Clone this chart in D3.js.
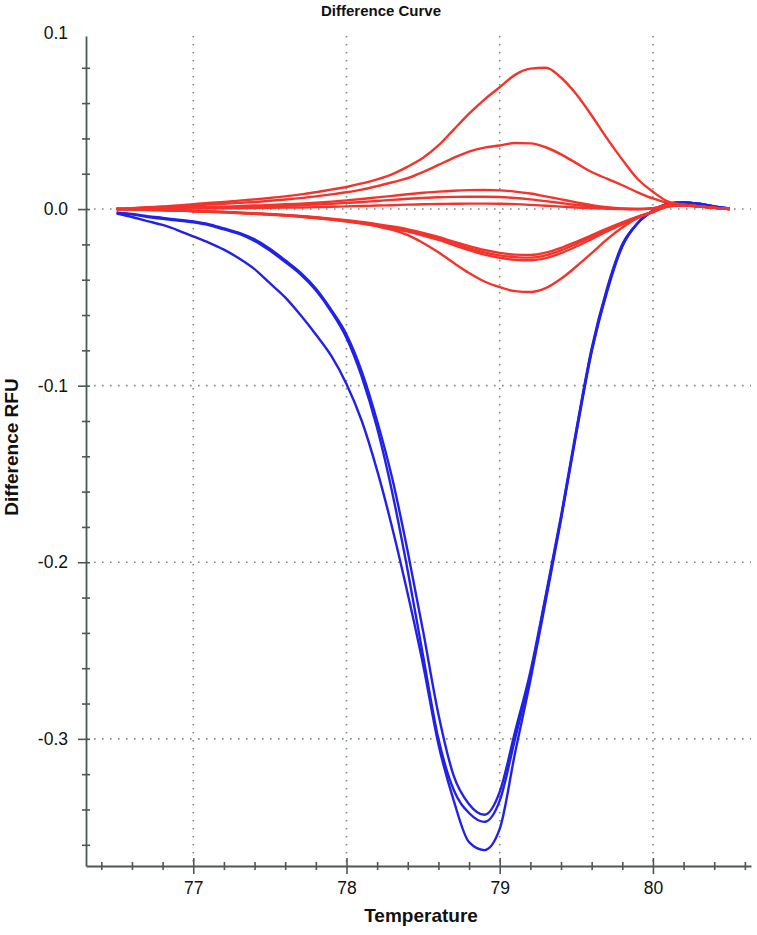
<!DOCTYPE html>
<html><head><meta charset="utf-8">
<script src="https://cdn.jsdelivr.net/npm/d3@7"></script>
<style>body{margin:0;background:#fff}svg{display:block}</style>
</head><body><svg id="c" width="757" height="935"></svg>
<script>
const temperature = [76.5,76.6,76.7,76.8,76.9,77.0,77.1,77.2,77.3,77.4,77.5,77.6,77.7,77.8,77.9,78.0,78.1,78.2,78.3,78.4,78.5,78.6,78.7,78.8,78.9,79.0,79.1,79.2,79.3,79.4,79.5,79.6,79.7,79.8,79.9,80.0,80.1,80.2,80.3,80.4,80.5];

const blue1 = [-0.0025,-0.0045,-0.0068,-0.009,-0.012,-0.0155,-0.019,-0.023,-0.028,-0.034,-0.042,-0.05,-0.06,-0.071,-0.083,-0.099,-0.12,-0.148,-0.181,-0.218,-0.258,-0.303,-0.335,-0.3585,-0.363,-0.351,-0.308,-0.267,-0.222,-0.176,-0.127,-0.081,-0.047,-0.021,-0.008,-0.001,0.003,0.0038,0.003,0.0015,0.0003];
const blue2 = [-0.002,-0.003,-0.0045,-0.0055,-0.0065,-0.0075,-0.009,-0.0115,-0.014,-0.018,-0.0235,-0.03,-0.037,-0.046,-0.058,-0.073,-0.095,-0.124,-0.161,-0.205,-0.253,-0.3,-0.329,-0.342,-0.347,-0.335,-0.3,-0.264,-0.22,-0.175,-0.126,-0.08,-0.046,-0.021,-0.008,-0.001,0.003,0.0038,0.003,0.0015,0.0003];
const blue3 = [-0.002,-0.0028,-0.004,-0.005,-0.006,-0.007,-0.0085,-0.011,-0.0135,-0.0172,-0.0225,-0.029,-0.036,-0.045,-0.057,-0.071,-0.092,-0.12,-0.153,-0.194,-0.239,-0.286,-0.321,-0.337,-0.343,-0.33,-0.296,-0.262,-0.219,-0.174,-0.125,-0.079,-0.045,-0.02,-0.008,-0.001,0.003,0.0038,0.003,0.0015,0.0003];

const red1 = [0,0.0005,0.001,0.0015,0.002,0.0028,0.0035,0.004,0.0048,0.0055,0.0063,0.0072,0.0083,0.0095,0.011,0.0125,0.0145,0.0168,0.0198,0.024,0.029,0.036,0.045,0.054,0.062,0.069,0.076,0.0795,0.08,0.0745,0.065,0.053,0.04,0.028,0.017,0.0098,0.0042,0.0025,0.0015,0.0007,0];
const red2 = [0,0.0004,0.0008,0.0012,0.0016,0.002,0.0025,0.003,0.0035,0.004,0.0047,0.0054,0.0062,0.0072,0.0083,0.0095,0.011,0.013,0.0152,0.0175,0.021,0.025,0.029,0.0325,0.0348,0.036,0.0374,0.0372,0.035,0.031,0.026,0.021,0.0172,0.0135,0.0095,0.006,0.0035,0.0025,0.0015,0.0007,0];
const red3 = [0,0.0002,0.0004,0.0006,0.0008,0.001,0.0012,0.0014,0.0017,0.002,0.0023,0.0027,0.0031,0.0036,0.0042,0.0049,0.0057,0.0066,0.0075,0.0084,0.0092,0.0099,0.0104,0.0107,0.0108,0.0106,0.0099,0.0088,0.0072,0.0055,0.0038,0.0022,0.001,0.0003,0.0001,0.0005,0.0024,0.0024,0.0015,0.0007,0];
const red4 = [0,0.0001,0.0003,0.0004,0.0005,0.0007,0.0008,0.001,0.0012,0.0014,0.0016,0.0019,0.0022,0.0026,0.003,0.0035,0.004,0.0046,0.0052,0.0058,0.0063,0.0067,0.0069,0.007,0.007,0.0068,0.0063,0.0055,0.0045,0.0034,0.0023,0.0013,0.0005,0.0001,0,0.0004,0.0024,0.0024,0.0015,0.0007,0];
const red5 = [0,0.0001,0.0001,0.0002,0.0002,0.0003,0.0004,0.0004,0.0005,0.0006,0.0007,0.0008,0.0009,0.0011,0.0013,0.0015,0.0017,0.002,0.0022,0.0025,0.0027,0.0029,0.003,0.0031,0.0031,0.003,0.0028,0.0024,0.0019,0.0014,0.0009,0.0005,0.0002,0,-0.0001,0.0004,0.0024,0.0024,0.0015,0.0007,0];
const red6 = [0,-0.0002,-0.0004,-0.0006,-0.0008,-0.001,-0.0013,-0.0016,-0.002,-0.0024,-0.0028,-0.0033,-0.0039,-0.0046,-0.0054,-0.0063,-0.0073,-0.0085,-0.0099,-0.0115,-0.0135,-0.0158,-0.0185,-0.021,-0.0232,-0.0248,-0.0258,-0.026,-0.0247,-0.022,-0.0185,-0.0148,-0.011,-0.0075,-0.0043,-0.0015,0.0015,0.0022,0.0015,0.0007,0];
const red7 = [0,-0.0002,-0.0004,-0.0006,-0.0009,-0.0011,-0.0014,-0.0017,-0.0021,-0.0025,-0.003,-0.0035,-0.0041,-0.0048,-0.0057,-0.0066,-0.0077,-0.009,-0.0105,-0.0122,-0.0143,-0.0167,-0.0195,-0.0222,-0.0245,-0.0262,-0.0272,-0.0275,-0.0262,-0.0234,-0.0197,-0.0157,-0.0117,-0.008,-0.0046,-0.0016,0.0015,0.0022,0.0015,0.0007,0];
const red8 = [0,-0.0002,-0.0005,-0.0007,-0.0009,-0.0012,-0.0015,-0.0018,-0.0022,-0.0027,-0.0032,-0.0037,-0.0044,-0.0051,-0.006,-0.007,-0.0081,-0.0095,-0.011,-0.0128,-0.015,-0.0175,-0.0204,-0.0233,-0.0258,-0.0276,-0.0287,-0.029,-0.0278,-0.025,-0.0212,-0.017,-0.0127,-0.0087,-0.005,-0.0018,0.0015,0.0022,0.0015,0.0007,0];
const red9 = [0,-0.0002,-0.0004,-0.0006,-0.0008,-0.0012,-0.0015,-0.0019,-0.0023,-0.0027,-0.003,-0.0036,-0.0043,-0.0051,-0.006,-0.007,-0.0082,-0.0098,-0.0118,-0.0148,-0.0192,-0.0245,-0.0305,-0.0362,-0.041,-0.0442,-0.0465,-0.047,-0.0448,-0.0395,-0.0325,-0.025,-0.0172,-0.0105,-0.005,-0.0015,0.0015,0.0022,0.0015,0.0007,0];

const xMajorTicks = [77, 78, 79, 80];
const xTickLabels = ["77", "78", "79", "80"];
const xMinorTicks = [76.4,76.6,76.8,77.2,77.4,77.6,77.8,78.2,78.4,78.6,78.8,79.2,79.4,79.6,79.8,80.2,80.4,80.6];
const yMajorTicks = [0.1, 0, -0.1, -0.2, -0.3];
const yTickLabels = ["0.1", "0.0", "-0.1", "-0.2", "-0.3"];
const yMinorTicks = [0.08,0.06,0.04,0.02,-0.02,-0.04,-0.06,-0.08,-0.12,-0.14,-0.16,-0.18,-0.22,-0.24,-0.26,-0.28,-0.32,-0.34,-0.36];
const yGrid = [0, -0.1, -0.2, -0.3];

const blueSeries = [blue1, blue2, blue3];
const redSeries = [red1, red2, red3, red4, red5, red6, red7, red8, red9];

const svg = d3.select("#c");
const x = d3.scaleLinear().domain([76.3, 80.64]).range([86, 751]);
const y = d3.scaleLinear().domain([-0.372, 0.098]).range([866, 36]);
const axisColor = "#4b5858";
const fontF = "'Liberation Sans', Arial, Helvetica, sans-serif";

// grid
const grid = svg.append("g").attr("stroke", "#7d8a8a").attr("stroke-width", 1.6).attr("stroke-dasharray", "1.6,6.4");
grid.selectAll("line.v").data(xMajorTicks).join("line")
  .attr("x1", d => x(d)).attr("x2", d => x(d)).attr("y1", y(0.098)).attr("y2", y(-0.372));
grid.selectAll("line.h").data(yGrid).join("line")
  .attr("y1", d => y(d)).attr("y2", d => y(d)).attr("x1", x(76.3)).attr("x2", x(80.64));

// lines
const lineSmooth = d3.line().curve(d3.curveMonotoneX).x((d, i) => x(temperature[i])).y(d => y(d));
svg.append("g").selectAll("path").data(blueSeries).join("path")
  .attr("d", lineSmooth).attr("fill", "none").attr("stroke", "#2222e6").attr("stroke-width", 2.4).attr("stroke-linejoin", "round");
svg.append("g").selectAll("path").data(redSeries).join("path")
  .attr("d", lineSmooth).attr("fill", "none").attr("stroke", "#f2342c").attr("stroke-width", 2.4).attr("stroke-linejoin", "round");

// axes
function styleAxis(g) {
  g.select(".domain").attr("stroke", axisColor).attr("stroke-width", 1.8);
  g.selectAll(".tick line").attr("stroke", axisColor).attr("stroke-width", 1.6);
}
const yMinorG = svg.append("g").attr("transform", `translate(${x(76.3)},0)`)
  .call(d3.axisLeft(y).tickValues(yMinorTicks).tickSize(4).tickSizeOuter(0).tickFormat(""));
yMinorG.selectAll(".tick line").attr("x2", -4).attr("x1", 4);
styleAxis(yMinorG);
const yMajorG = svg.append("g").attr("transform", `translate(${x(76.3)},0)`)
  .call(d3.axisLeft(y).tickValues(yMajorTicks).tickSize(8).tickSizeOuter(0).tickPadding(10)
    .tickFormat((d, i) => yTickLabels[i]));
yMajorG.select(".domain").remove();
yMajorG.selectAll(".tick line").attr("x1", 4);
yMajorG.selectAll(".tick").filter(d => d === 0.1).select("line").remove();
styleAxis(yMajorG);
yMajorG.selectAll("text").attr("font-family", fontF).attr("font-size", 17.5).attr("fill", "#111").attr("x", -18);

const xMinorG = svg.append("g").attr("transform", `translate(0,${y(-0.372)})`)
  .call(d3.axisBottom(x).tickValues(xMinorTicks).tickSize(4).tickSizeOuter(0).tickFormat(""));
xMinorG.selectAll(".tick line").attr("y1", -4);
styleAxis(xMinorG);
const xMajorG = svg.append("g").attr("transform", `translate(0,${y(-0.372)})`)
  .call(d3.axisBottom(x).tickValues(xMajorTicks).tickSize(8).tickSizeOuter(0).tickPadding(8)
    .tickFormat((d, i) => xTickLabels[i]));
xMajorG.select(".domain").remove();
xMajorG.selectAll(".tick line").attr("y1", -8);
styleAxis(xMajorG);
xMajorG.selectAll("text").attr("font-family", fontF).attr("font-size", 17.5).attr("fill", "#111");

// titles
svg.append("text").attr("x", 381).attr("y", 16).attr("text-anchor", "middle")
  .attr("font-family", fontF).attr("font-weight", "bold").attr("font-size", 15).attr("fill", "#111")
  .text("Difference Curve");
svg.append("text").attr("x", 421).attr("y", 922).attr("text-anchor", "middle")
  .attr("font-family", fontF).attr("font-weight", "bold").attr("font-size", 19).attr("fill", "#111")
  .text("Temperature");
svg.append("text").attr("transform", "translate(18,447) rotate(-90)").attr("text-anchor", "middle")
  .attr("font-family", fontF).attr("font-weight", "bold").attr("font-size", 19).attr("fill", "#111")
  .text("Difference RFU");
</script></body></html>
